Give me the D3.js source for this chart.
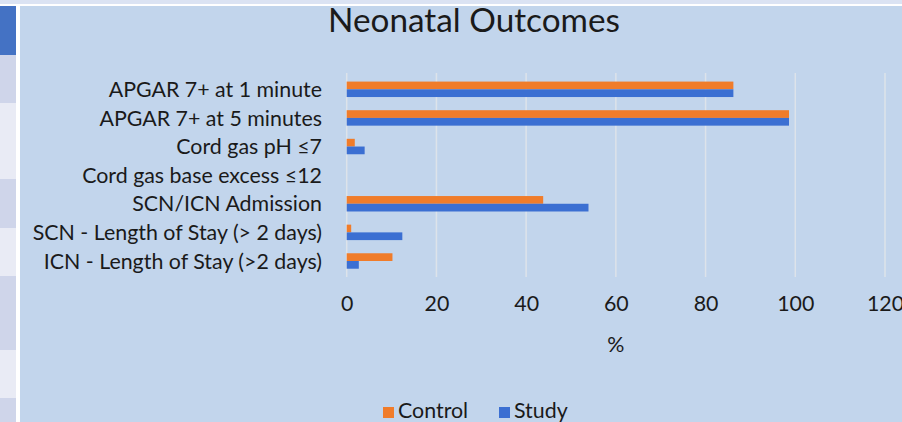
<!DOCTYPE html>
<html>
<head>
<meta charset="utf-8">
<script src="https://cdn.jsdelivr.net/npm/d3@7"></script>
<style>
  html, body { margin: 0; padding: 0; background: #ffffff; }
  svg { display: block; }
  text { font-family: "Lato", "Open Sans", sans-serif; fill: #1a1a1a; }
</style>
</head>
<body>
<svg id="chart" width="902" height="422"></svg>
<script>
// ---- data ----
const categories = [
  "APGAR 7+ at 1 minute",
  "APGAR 7+ at 5 minutes",
  "Cord gas pH \u22647",
  "Cord gas base excess \u226412",
  "SCN/ICN Admission",
  "SCN - Length of Stay (> 2 days)",
  "ICN - Length of Stay (>2 days)"
];
const seriesNames = ["Control", "Study"];
const controlValues = [86.2, 98.6, 1.8, 0, 43.8, 1.0, 10.2];
const studyValues   = [86.2, 98.6, 4.0, 0, 53.9, 12.4, 2.7];
const xTicks = [0, 20, 40, 60, 80, 100, 120];
const titleText = "Neonatal Outcomes";
const xAxisTitle = "%";

const colors = { Control: "#f07c2a", Study: "#3b6fd2" };

const svg = d3.select("#chart");

// ---- spreadsheet strip on the left ----
const cellRows = [
  { y0: 6, y1: 55, c: "#4472c4" },
  { y0: 55, y1: 103, c: "#cfd5ea" },
  { y0: 103, y1: 179, c: "#e9ebf5" },
  { y0: 179, y1: 228, c: "#cfd5ea" },
  { y0: 228, y1: 276, c: "#e9ebf5" },
  { y0: 276, y1: 350, c: "#cfd5ea" },
  { y0: 350, y1: 398, c: "#e9ebf5" },
  { y0: 398, y1: 422, c: "#cfd5ea" }
];
svg.append("rect").attr("x", 0).attr("y", 0).attr("width", 902).attr("height", 4).attr("fill", "#dbe3f3");
svg.selectAll("rect.cell").data(cellRows).join("rect")
  .attr("class", "cell")
  .attr("x", 0).attr("width", 16)
  .attr("y", d => d.y0).attr("height", d => d.y1 - d.y0)
  .attr("fill", d => d.c);

// ---- chart area ----
svg.append("rect").attr("x", 20).attr("y", 6).attr("width", 882).attr("height", 416).attr("fill", "#c2d5ec");

const x = d3.scaleLinear().domain([0, 120]).range([346.7, 885]);
const y = d3.scaleBand().domain(categories).range([75, 275.3]).paddingInner(0.46).paddingOuter(0.23);
const ySub = d3.scaleBand().domain(seriesNames).range([0, y.bandwidth()]).padding(0);

// gridlines
svg.append("g").selectAll("line").data(xTicks).join("line")
  .attr("x1", d => x(d)).attr("x2", d => x(d))
  .attr("y1", 73).attr("y2", 277)
  .attr("stroke", "#dde3ea").attr("stroke-width", 1.5);

// bars
const rows = categories.map((c, i) => ({ cat: c, Control: controlValues[i], Study: studyValues[i] }));
const groups = svg.append("g").selectAll("g").data(rows).join("g")
  .attr("transform", d => `translate(0,${y(d.cat)})`);
groups.selectAll("rect").data(d => seriesNames.map(s => ({ s, v: d[s] }))).join("rect")
  .attr("x", x(0))
  .attr("y", d => ySub(d.s))
  .attr("width", d => x(d.v) - x(0))
  .attr("height", ySub.bandwidth())
  .attr("fill", d => colors[d.s])
  .attr("opacity", d => d.v > 0 ? 1 : 0);

// helper to fit font size to target width
function fitText(sel, targetW, base) {
  sel.attr("font-size", base);
  const w = sel.node().getComputedTextLength();
  const fs = base * targetW / w;
  sel.attr("font-size", fs);
  return fs;
}

// category labels
const probe = svg.append("text").text(categories[3]);
const labelFs = fitText(probe, 240, 16);
probe.remove();
svg.append("g").selectAll("text").data(categories).join("text")
  .attr("x", 322)
  .attr("y", d => y(d) + y.bandwidth() / 2)
  .attr("dy", "0.36em")
  .attr("text-anchor", "end")
  .attr("font-size", labelFs)
  .text(d => d);

// x axis
const xAxis = d3.axisBottom(x).tickValues(xTicks).tickSize(0).tickPadding(0);
const gx = svg.append("g").attr("transform", "translate(0,296)").call(xAxis);
gx.select(".domain").remove();
gx.selectAll("text")
  .attr("font-family", "Lato, 'Open Sans', sans-serif")
  .attr("font-size", labelFs)
  .attr("fill", "#1a1a1a")
  .attr("dy", "0.71em");

// x axis title
svg.append("text").attr("x", (x(0) + x(120)) / 2).attr("y", 352)
  .attr("text-anchor", "middle").attr("font-size", labelFs).text(xAxisTitle);

// title
const title = svg.append("text").attr("x", 474).attr("y", 32).attr("text-anchor", "middle").text(titleText);
fitText(title, 292, 28);

// legend
const legendItems = [
  { s: "Control", sx: 383, tx: 398 },
  { s: "Study", sx: 499, tx: 514 }
];
const lg = svg.append("g");
lg.selectAll("rect").data(legendItems).join("rect")
  .attr("x", d => d.sx).attr("y", 407).attr("width", 11).attr("height", 11)
  .attr("fill", d => colors[d.s]);
lg.selectAll("text").data(legendItems).join("text")
  .attr("x", d => d.tx).attr("y", 418)
  .attr("font-size", labelFs)
  .text(d => d.s);
</script>
</body>
</html>
